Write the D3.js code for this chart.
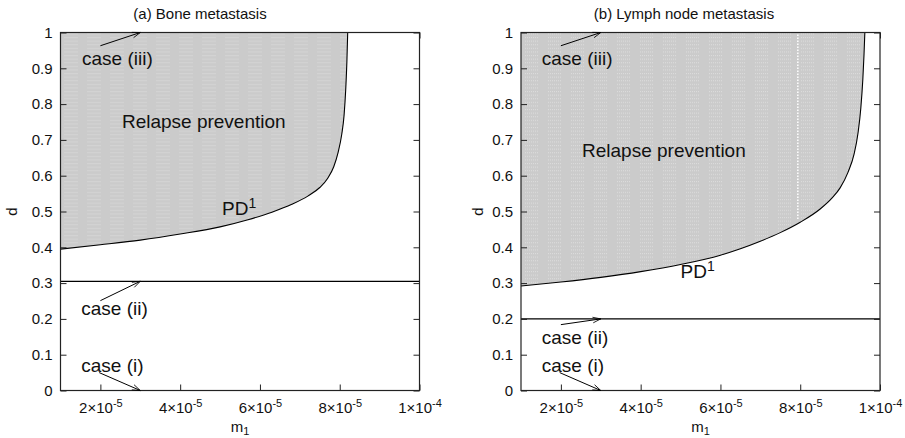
<!DOCTYPE html>
<html>
<head>
<meta charset="utf-8">
<script src="https://d3js.org/d3.v7.min.js"></script>
<style>
body { margin: 0; background: #fff; }
text { font-family: "Liberation Sans", Arial, Helvetica, sans-serif; fill: #111; }
</style>
</head>
<body>
<svg width="905" height="438"></svg>
<script>
// tick values
var m1Ticks = [2e-5, 4e-5, 6e-5, 8e-5, 1e-4];
var dTicks = [0, 0.1, 0.2, 0.3, 0.4, 0.5, 0.6, 0.7, 0.8, 0.9, 1];
var titles = ["(a) Bone metastasis", "(b) Lymph node metastasis"];

// PD1 boundary, bone metastasis
var boneM1 = [1.0e-5, 2.0e-5, 3.0e-5, 4.0e-5, 5.0e-5, 5.7e-5, 6.3e-5, 6.8e-5, 7.2e-5, 7.5e-5, 7.7e-5, 7.85e-5, 7.96e-5, 8.05e-5, 8.11e-5, 8.15e-5, 8.18e-5, 8.2e-5];
var boneD  = [0.395, 0.407, 0.42, 0.437, 0.457, 0.477, 0.498, 0.52, 0.543, 0.567, 0.593, 0.625, 0.665, 0.715, 0.77, 0.84, 0.92, 1.0];

// PD1 boundary, lymph node metastasis
var lymphM1 = [1.0e-5, 2.0e-5, 3.0e-5, 4.0e-5, 5.0e-5, 6.0e-5, 6.5e-5, 7.0e-5, 7.5e-5, 8.0e-5, 8.5e-5, 8.8e-5, 9.0e-5, 9.2e-5, 9.35e-5, 9.45e-5, 9.52e-5, 9.57e-5, 9.6e-5, 9.62e-5];
var lymphD  = [0.292, 0.303, 0.316, 0.332, 0.352, 0.378, 0.396, 0.417, 0.441, 0.47, 0.507, 0.538, 0.566, 0.61, 0.66, 0.72, 0.79, 0.87, 0.94, 1.0];

// case (ii) threshold lines
var case2D = [0.305, 0.2];
// white gap seen in panel (b)
var lymphGapM1 = 7.94e-5;

var svg = d3.select("svg");

var defs = svg.append("defs");
var pat = defs.append("pattern")
    .attr("id", "shade")
    .attr("patternUnits", "userSpaceOnUse")
    .attr("width", 23).attr("height", 3.6);
pat.append("rect").attr("width", 23).attr("height", 3.6).attr("fill", "#cbcbcb");
d3.range(7).forEach(function(i) {
  pat.append("rect").attr("x", 4 + 2 * i).attr("y", 1).attr("width", 1).attr("height", 1).attr("fill", "#dedede");
});
defs.append("marker")
    .attr("id", "arrow")
    .attr("viewBox", "0 0 10 10")
    .attr("refX", 10).attr("refY", 5)
    .attr("markerUnits", "userSpaceOnUse")
    .attr("markerWidth", 11).attr("markerHeight", 8)
    .attr("orient", "auto")
  .append("path")
    .attr("d", "M0,1.5 L10,5 L0,8.5")
    .attr("fill", "none").attr("stroke", "#000").attr("stroke-width", 1);

var panels = [
  { left: 60.5, m1: boneM1, d: boneD, case2: case2D[0], title: titles[0], titleX: 139.5, dLabelX: -44,
    case3Text: [1.54e-5, 0.908], case2Text: [1.52e-5, 0.211], case1Text: [1.52e-5, 0.051],
    case2From: 0.251, relapse: [2.54e-5, 0.732], pd: [5.05e-5, 0.489], gap: null },
  { left: 521, m1: lymphM1, d: lymphD, case2: case2D[1], title: titles[1], titleX: 163, dLabelX: -38,
    case3Text: [1.52e-5, 0.908], case2Text: [1.52e-5, 0.130], case1Text: [1.52e-5, 0.051],
    case2From: 0.184, relapse: [2.53e-5, 0.651], pd: [5.0e-5, 0.313], gap: lymphGapM1 }
];

var plotW = 359, plotTop = 32.5, plotBottom = 390.5;

function sciLabel(sel) {
  sel.each(function(v) {
    var e = Math.floor(Math.log10(v) + 1e-9);
    var m = Math.round(v / Math.pow(10, e));
    var t = d3.select(this).text(null);
    t.append("tspan").text(m + "\u00d710");
    t.append("tspan").attr("dy", "-0.5em").attr("font-size", "11px").text(String(e));
  });
}

panels.forEach(function(p) {
  var h = plotBottom - plotTop;
  var x = d3.scaleLinear().domain([1e-5, 1e-4]).range([0, plotW]);
  var y = d3.scaleLinear().domain([0, 1]).range([h, 0]);
  var g = svg.append("g").attr("transform", "translate(" + p.left + "," + plotTop + ")");
  var pts = p.m1.map(function(m, i) { return [m, p.d[i]]; });

  // top mirror ticks (under the shading)
  g.append("g").call(d3.axisTop(x).tickValues(m1Ticks).tickSize(-6).tickSizeOuter(0).tickFormat(""))
    .call(function(a) { a.select(".domain").remove(); a.selectAll("line").attr("stroke", "#222"); });

  var area = d3.area()
      .x(function(d) { return x(d[0]); })
      .y0(0)
      .y1(function(d) { return y(d[1]); })
      .curve(d3.curveMonotoneX);
  g.append("path").datum(pts).attr("d", area).attr("fill", "url(#shade)");

  if (p.gap) {
    var interp = d3.scaleLinear().domain(p.m1).range(p.d);
    g.append("line")
      .attr("x1", x(p.gap)).attr("x2", x(p.gap))
      .attr("y1", y(1) + 2).attr("y2", y(interp(p.gap)) - 3)
      .attr("stroke", "#fff").attr("stroke-width", 1.5).attr("stroke-dasharray", "1.5,1.5");
  }

  var line = d3.line()
      .x(function(d) { return x(d[0]); })
      .y(function(d) { return y(d[1]); })
      .curve(d3.curveMonotoneX);
  g.append("path").datum(pts).attr("d", line).attr("fill", "none").attr("stroke", "#000").attr("stroke-width", 1.1);

  g.append("line")
    .attr("x1", 0).attr("x2", plotW)
    .attr("y1", y(p.case2)).attr("y2", y(p.case2))
    .attr("stroke", "#000").attr("stroke-width", 1.2);

  // frame
  g.append("rect").attr("width", plotW).attr("height", h)
    .attr("fill", "none").attr("stroke", "#222").attr("stroke-width", 1.2);

  // axes
  var ax = g.append("g").attr("transform", "translate(0," + h + ")")
    .call(d3.axisBottom(x).tickValues(m1Ticks).tickSize(-6).tickSizeOuter(0));
  ax.select(".domain").remove();
  ax.selectAll("line").attr("stroke", "#222");
  ax.selectAll("text").attr("y", 22).attr("dy", null)
    .attr("font-size", "15px").attr("font-family", null).attr("fill", "#111")
    .call(sciLabel);

  var ay = g.append("g")
    .call(d3.axisLeft(y).tickValues(dTicks).tickSize(-6).tickSizeOuter(0).tickPadding(8).tickFormat(d3.format("")));
  ay.select(".domain").remove();
  ay.selectAll("line").attr("stroke", "#222");
  ay.selectAll("text").attr("font-size", "15px").attr("font-family", null).attr("fill", "#111");

  var ar = g.append("g").attr("transform", "translate(" + plotW + ",0)")
    .call(d3.axisRight(y).tickValues(dTicks).tickSize(-6).tickSizeOuter(0).tickFormat(""));
  ar.select(".domain").remove();
  ar.selectAll("line").attr("stroke", "#222");

  // titles and axis labels
  g.append("text").attr("x", p.titleX).attr("y", -13.5)
    .attr("text-anchor", "middle").attr("font-size", "15px").text(p.title);

  var xl = g.append("text").attr("x", plotW / 2).attr("y", h + 41)
    .attr("text-anchor", "middle").attr("font-size", "15px");
  xl.append("tspan").text("m");
  xl.append("tspan").attr("dy", "0.35em").attr("font-size", "11px").text("1");

  g.append("text").attr("transform", "translate(" + p.dLabelX + "," + (h / 2) + ") rotate(-90)")
    .attr("text-anchor", "middle").attr("font-size", "15px").text("d");

  // annotations
  function label(pos, str) {
    return g.append("text").attr("x", x(pos[0])).attr("y", y(pos[1])).attr("font-size", "19px").text(str);
  }
  label(p.case3Text, "case (iii)");
  label(p.case2Text, "case (ii)");
  label(p.case1Text, "case (i)");
  label(p.relapse, "Relapse prevention");
  var pd = label(p.pd, "PD");
  pd.append("tspan").attr("dy", "-0.55em").attr("font-size", "14px").text("1");

  function arrow(x0, d0, x1, d1) {
    g.append("line")
      .attr("x1", x(x0)).attr("y1", y(d0))
      .attr("x2", x(x1)).attr("y2", y(d1))
      .attr("stroke", "#000").attr("stroke-width", 1)
      .attr("marker-end", "url(#arrow)");
  }
  arrow(2.0e-5, 0.963, 3.0e-5, 1);
  arrow(2.0e-5, p.case2From, 3.0e-5, p.case2);
  arrow(1.97e-5, 0.05, 3.0e-5, 0);
});
</script>
</body>
</html>
